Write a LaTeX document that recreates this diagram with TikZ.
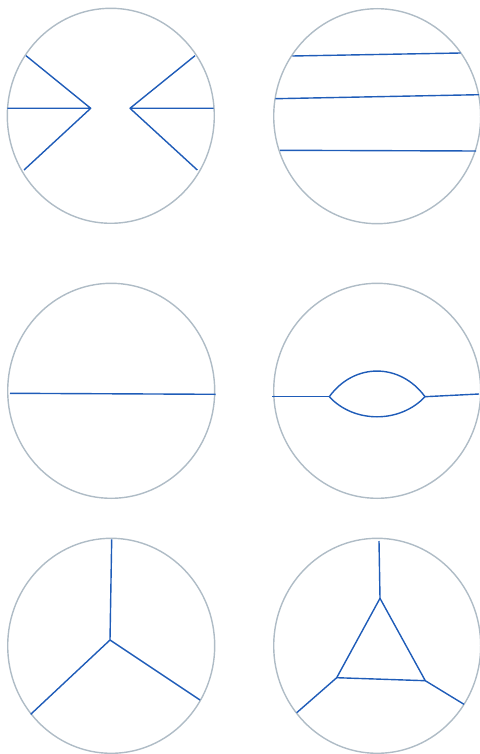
\documentclass[tikz,border=0pt]{standalone}
\definecolor{rim}{HTML}{AFBCC6}
\definecolor{edge}{HTML}{1F5CB8}
\begin{document}
\begin{tikzpicture}[x=1pt,y=-1pt,
  rimline/.style={draw=rim,line width=1.4pt},
  edgeline/.style={draw=edge,line width=1.4pt,line join=round}]
\useasboundingbox (0,0) rectangle (479,754);
% circle centres
\coordinate (c1) at (110.8,115.8);
\coordinate (c2) at (377.2,116.2);
\coordinate (c3) at (111.2,390.8);
\coordinate (c4) at (377.2,390.8);
\coordinate (c5) at (111.2,645.8);
\coordinate (c6) at (377.2,645.8);
\foreach \c in {c1,c2,c3,c4,c5,c6}
  \path[rimline] (\c) ellipse [x radius=103.5, y radius=107.5];
% diagram 1
\coordinate (v1l) at (90.7,108.3);
\coordinate (v1r) at (130,108.3);
\coordinate (a1) at (26,55.7);
\coordinate (a2) at (7.3,108.3);
\coordinate (a3) at (24,170);
\coordinate (b1) at (195,55.7);
\coordinate (b2) at (213.7,108.3);
\coordinate (b3) at (197.3,170);
\draw[edgeline] (a1) -- (v1l) -- (a3) (a2) -- (v1l);
\draw[edgeline] (b1) -- (v1r) -- (b3) (b2) -- (v1r);
% diagram 2
\coordinate (p1) at (292.3,56);
\coordinate (q1) at (460.7,53);
\coordinate (p2) at (275.3,98.7);
\coordinate (q2) at (479,94.7);
\coordinate (p3) at (280,150.3);
\coordinate (q3) at (476,151);
\draw[edgeline] (p1) -- (q1) (p2) -- (q2) (p3) -- (q3);
% diagram 3
\coordinate (m1) at (10,393.3);
\coordinate (m2) at (215.7,394.3);
\draw[edgeline] (m1) -- (m2);
% diagram 4
\coordinate (l0) at (272.3,396.7);
\coordinate (l1) at (329.3,396.7);
\coordinate (l2) at (425,396.7);
\coordinate (l3) at (479,394);
\draw[edgeline] (l0) -- (l1);
\draw[edgeline] (l2) -- (l3);
\draw[edgeline] (l1) .. controls (354,362.5) and (400,362.5) .. (l2);
\draw[edgeline] (l1) .. controls (354,423.5) and (400,423.5) .. (l2);
% diagram 5
\coordinate (y0) at (110,640);
\coordinate (y1) at (111.7,539.3);
\coordinate (y2) at (30.7,714.3);
\coordinate (y3) at (200,700);
\draw[edgeline] (y1) -- (y0) -- (y2) (y0) -- (y3);
% diagram 6
\coordinate (t1) at (380,598.3);
\coordinate (t2) at (336.7,677.7);
\coordinate (t3) at (425.3,680.7);
\coordinate (e1) at (379,541);
\coordinate (e2) at (296.7,712.7);
\coordinate (e3) at (464,704.3);
\draw[edgeline] (t1) -- (t2) -- (t3) -- cycle;
\draw[edgeline] (e1) -- (t1) (e2) -- (t2) (e3) -- (t3);
\end{tikzpicture}
\end{document}
